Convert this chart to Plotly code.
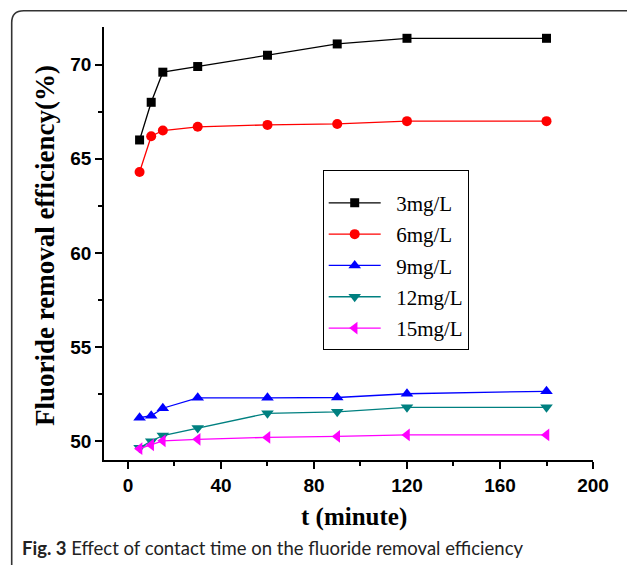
import plotly.graph_objects as go

# ---- data ----
time_min = [5, 10, 15, 30, 60, 90, 120, 180]
series_names = ["3mg/L", "6mg/L", "9mg/L", "12mg/L", "15mg/L"]
eff_3 = [66.0, 68.0, 69.6, 69.9, 70.5, 71.1, 71.4, 71.4]
eff_6 = [64.3, 66.2, 66.5, 66.7, 66.8, 66.85, 67.0, 67.0]
eff_9 = [51.25, 51.35, 51.75, 52.3, 52.3, 52.32, 52.52, 52.65]
eff_12 = [49.65, 50.0, 50.3, 50.7, 51.48, 51.56, 51.8, 51.8]
eff_15 = [49.6, 49.8, 50.02, 50.1, 50.2, 50.25, 50.33, 50.33]
x_ticks = [0, 40, 80, 120, 160, 200]
y_ticks = [50, 55, 60, 65, 70]

values = [eff_3, eff_6, eff_9, eff_12, eff_15]
colors = ["#000000", "#FF0000", "#0000FF", "#008080", "#FF00FF"]
symbols = ["square", "circle", "triangle-up", "triangle-down", "triangle-left"]
msizes = [9, 10, 11, 11, 11]

W, H = 627, 565
L, R, T, B = 104, 34, 27, 105
PW, PH = W - L - R, H - T - B


def px(x):
    return (x - L) / PW


def py(y):
    return 1 - (y - T) / PH


fig = go.Figure()
for i, (name, v) in enumerate(zip(series_names, values)):
    fig.add_trace(go.Scatter(
        x=time_min, y=v, name="\u00a0\u00a0" + name, mode="lines+markers",
        line=dict(color=colors[i], width=1.3),
        marker=dict(symbol=symbols[i], size=msizes[i], color=colors[i],
                    line=dict(width=0)),
        legendgroup="g%d" % i,
    ))

axis_common = dict(
    showline=True, linecolor="black", linewidth=1.6,
    ticks="outside", ticklen=7, tickwidth=1.5, tickcolor="black",
    showgrid=False, zeroline=False, mirror=False,
    tickfont=dict(family="Liberation Sans", size=19, color="black"),
)

fig.update_xaxes(range=[-10.3, 200], tickvals=x_ticks, ticktext=["<b>%d</b>" % t for t in x_ticks],
                 minor=dict(ticks="outside", ticklen=4, tickwidth=1.5, tickcolor="black", dtick=20, tick0=0),
                 **axis_common)
fig.update_yaxes(range=[49, 72], tickvals=y_ticks, ticktext=["<b>%d</b>" % t for t in y_ticks],
                 minor=dict(ticks="outside", ticklen=4, tickwidth=1.5, tickcolor="black", dtick=2.5, tick0=0),
                 **axis_common)

# frame with rounded top-left corner (left and top edges)
fl, ft, rr = 11.7, 10.7, 12
right, bottom = W + 2, H + 2
path = (f"M {px(fl)},{py(bottom)} L {px(fl)},{py(ft + rr)} "
        f"Q {px(fl)},{py(ft)} {px(fl + rr)},{py(ft)} L {px(right)},{py(ft)}")
fig.add_shape(type="path", path=path, xref="paper", yref="paper",
              line=dict(color="#333333", width=1.6), layer="below",
              fillcolor="rgba(0,0,0,0)")

fig.add_annotation(text="<b>Fluoride removal efficiency(%)</b>", textangle=-90,
                   x=px(45), y=py(246), xref="paper", yref="paper",
                   xanchor="center", yanchor="middle", showarrow=False,
                   font=dict(family="Liberation Serif", size=27, color="black"))
fig.add_annotation(text="<b>t (minute)</b>",
                   x=px(354), y=py(517), xref="paper", yref="paper",
                   xanchor="center", yanchor="middle", showarrow=False,
                   font=dict(family="Liberation Serif", size=25, color="black"))
fig.add_annotation(text="<b>Fig. 3</b> Effect of contact time on the fluoride removal efficiency",
                   x=px(20), y=py(548), xref="paper", yref="paper",
                   xanchor="left", yanchor="middle", showarrow=False,
                   font=dict(family="Lato", size=18.5, color="#222222"))

fig.update_layout(
    width=W, height=H,
    margin=dict(l=L, r=R, t=T, b=B),
    paper_bgcolor="white", plot_bgcolor="white",
    showlegend=True,
    legend=dict(x=px(322.7), y=py(170), xanchor="left", yanchor="top",
                bordercolor="black", borderwidth=1, bgcolor="white",
                font=dict(family="Liberation Serif", size=21, color="black"),
                title=dict(text=" ", font=dict(size=9)),
                tracegroupgap=1, itemwidth=52),
)

fig.write_html("out.html")
